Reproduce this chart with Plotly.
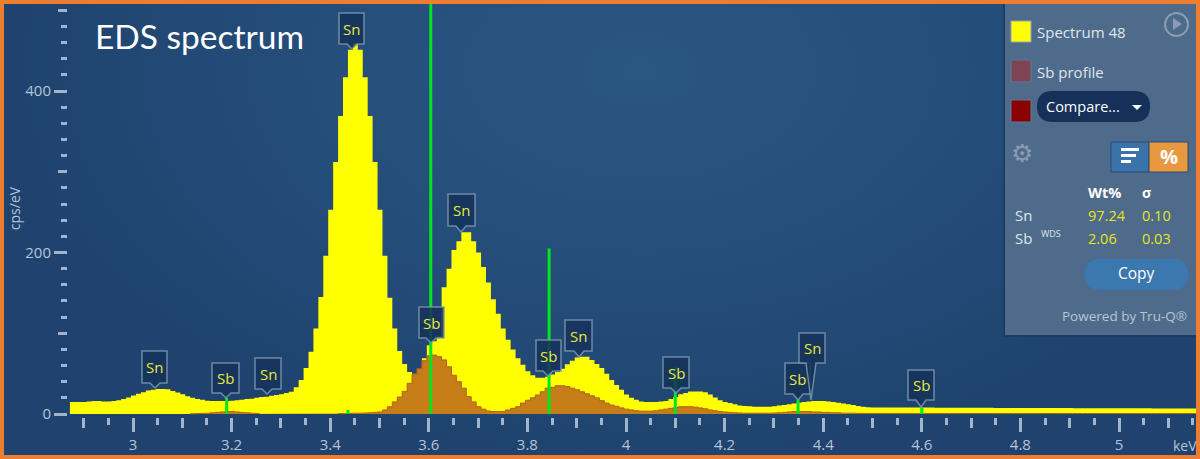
import urllib.parse
import plotly.graph_objects as go

# ---------- data ----------
spectrum_cps = [15,
    15, 15, 15, 15.5, 16, 16, 15.5, 15.5, 16, 17, 18.5, 20.5, 23, 25, 27, 29, 30, 31, 31, 30.5,
    28.5, 26.5, 24.5, 22, 20, 18.5, 17.5, 16.5, 16, 16, 16, 16, 16.5, 17, 17.5, 18.5, 19, 20, 21, 21.5,
    22.5, 23.5, 24.5, 26, 27.5, 33, 42, 57, 77, 106, 145, 196, 253, 312, 369, 417, 451, 459, 451, 417,
    369, 312, 253, 196, 144, 106, 78, 62, 52, 50, 51, 69, 85, 90, 96, 157, 180, 203, 214, 225,
    225, 214, 200, 182, 163, 142, 124, 106, 92, 80, 69, 61, 53, 48, 45, 45, 46, 49, 52, 56,
    61.5, 66, 70, 71, 71, 67, 62, 57, 50, 42, 36, 30, 24, 20, 17.5, 15.5, 15, 15, 15, 15.5,
    16, 18.5, 21, 24.5, 26, 28, 28, 28, 27, 24, 20.5, 17, 15, 13.5, 12, 10.5, 10, 9.5, 9, 9,
    9, 9, 9.5, 10.5, 11, 12, 13, 14, 15, 15.5, 16, 16, 16, 15.5, 15, 14, 13, 12, 11, 10,
    9, 8.5, 8, 8, 8, 8, 8, 8, 8, 8, 8, 8, 8, 8, 8, 7.8, 7.8, 7.8, 7.8, 7.8,
    7.8, 7.6, 7.6, 7.6, 7.6, 7.6, 7.6, 7.5, 7.5, 7.5, 7.5, 7.5, 7.5, 7.4, 7.4, 7.4, 7.4, 7.4, 7.3, 7.3,
    7.3, 7.3, 7.3, 7.2, 7.2, 7.2, 7.2, 7.2, 7.1, 7.1, 7.1, 7.1, 7, 7, 7, 7, 7, 7, 7, 6.9,
    6.9, 6.9, 6.9, 6.8, 6.8, 6.8, 6.8, 6.8, 6.8]

sb_profile_cps = [None] * 25 + [
    0.3, 0.5, 0.8, 1, 1.5, 2, 2.5, 3, 3, 2.5, 2, 1.5, 1, 0.7, 0.4] + [None] * 15 + [
    0.5, 0.5, 0.8, 1, 1, 1.2, 1.5, 2, 2.5, 5, 9, 15, 21, 28, 38, 49, 56, 66, 72, 73,
    71, 67, 58.5, 48, 40, 32, 21.5, 15, 9, 6, 3.7, 3, 3, 3, 5, 7, 9, 13.5, 17, 20,
    23.5, 27.6, 32, 33, 35, 35, 34, 32, 30, 27.5, 25, 22.5, 20, 16.5, 13.5, 11, 9.5, 7.5, 6, 5,
    4, 3.5, 3.5, 3.5, 4, 5, 6, 7, 8, 9, 9, 9, 8.5, 7.5, 6.5, 5, 4, 3, 2.5, 2,
    1.5, 1.2, 1, 1, 1, 1, 1, 1, 1.2, 1.5, 2, 2.5, 3, 3, 3, 3, 2.5, 2.5, 2, 2,
    1.5, 1.5, 1, 1, 1, 0.8, 0.8, 0.7, 0.7, 0.7, 0.7, 0.7, 0.7, 0.7, 0.7, 0.7, 0.7, 0.7, 0.7, 0.7]
sb_profile_cps += [0.6] * (len(spectrum_cps) - len(sb_profile_cps))

first_edge_kev = 2.872
bin_start_kev = 2.876
bin_kev = 0.01

line_kev = [3.19, 3.436, 3.604, 3.844, 4.10, 4.349, 4.60]
line_cps = [20, 5, 520, 205, 58, 18, 8]

marker_text = ["Sn", "Sb", "Sn", "Sn", "Sn", "Sb", "Sb", "Sn", "Sb", "Sb", "Sn", "Sb"]
marker_box_left = [142, 212, 255, 339, 448, 419, 536, 565, 663, 785, 799, 908]
marker_box_right = [167, 239, 281, 364, 475, 444, 561, 592, 689, 810, 825, 934]
marker_box_top = [351, 363, 358, 13, 194, 307, 340, 320, 357, 363, 333, 370]
marker_box_bottom = [383, 393, 389, 44, 226, 338, 371, 351, 388, 394, 363, 400]
marker_tip_x = [155, 226, 267, 352, 461, 431, 548, 579, 676, 798, 811, 921]
marker_tip_y = [388, 398, 394, 49, 232, 343, 376, 357, 393, 400, 400, 407]

result_elements = ["Sn", "Sb"]
result_wt = ["97.24", "2.06"]
result_sigma = ["0.10", "0.03"]

# ---------- page geometry ----------
W, H = 1200, 459
L, R, T, B = 68, 1197, 0, 417
KEV_PX, X3_PX = 493.0, 133.0
CPS_PX, Y0_PX = 0.8075, 414.0


def px(x):
    return (x - L) / (R - L)


def py(y):
    return 1 - (y - T) / (B - T)


energy = [first_edge_kev] + [round(bin_start_kev + bin_kev * i, 3) for i in range(len(spectrum_cps))]
ys = spectrum_cps + [spectrum_cps[-1]]
sb = sb_profile_cps + [sb_profile_cps[-1]]

fig = go.Figure()
fig.add_trace(go.Scatter(x=energy, y=ys, mode="lines", line=dict(shape="hv", color="#ffff00", width=0),
                         fill="tozeroy", fillcolor="#ffff00", name="Spectrum 48", hoverinfo="skip"))
fig.add_trace(go.Scatter(x=energy, y=sb, mode="lines", line=dict(shape="hv", color="#ad621e", width=1),
                         fill="tozeroy", fillcolor="#c67c17", name="Sb profile", hoverinfo="skip"))
gx, gy = [], []
for k, c in zip(line_kev, line_cps):
    gx += [k, k, None]
    gy += [0, c, None]
fig.add_trace(go.Scatter(x=gx, y=gy, mode="lines", line=dict(color="#00e61e", width=3), hoverinfo="skip"))
fig.add_trace(go.Scatter(x=[3], y=[0], mode="lines", xaxis="x2", yaxis="y2", hoverinfo="skip"))

# background gradient
svg = (f'<svg xmlns="http://www.w3.org/2000/svg" width="{W}" height="{H}" preserveAspectRatio="none">'
       '<defs><radialGradient id="g" gradientUnits="userSpaceOnUse" cx="0" cy="0" r="1" '
       'gradientTransform="translate(640 70) scale(640 400)">'
       '<stop offset="0" stop-color="#2a5683"/><stop offset="0.55" stop-color="#254d7a"/>'
       '<stop offset="1" stop-color="#1f426e"/></radialGradient></defs>'
       f'<rect width="{W}" height="{H}" fill="url(#g)"/></svg>')
bg_uri = "data:image/svg+xml;charset=utf-8," + urllib.parse.quote(svg)

shapes = []


def rect(x0, y0, x1, y1, fill, line=None, lw=0):
    shapes.append(dict(type="rect", xref="paper", yref="paper", x0=px(x0), x1=px(x1), y0=py(y0), y1=py(y1),
                       fillcolor=fill, line=dict(color=line or fill, width=lw), layer="above"))


def path(points, fill, line=None, lw=0, closed=True):
    d = "M " + " L ".join(f"{px(x):.5f},{py(y):.5f}" for x, y in points) + (" Z" if closed else "")
    shapes.append(dict(type="path", xref="paper", yref="paper", path=d, fillcolor=fill,
                       line=dict(color=line or "rgba(0,0,0,0)", width=lw), layer="above"))


def pill(x0, y0, x1, y1, fill):
    r = (y1 - y0) / 2
    d = (f"M {px(x0 + r):.5f},{py(y0):.5f} L {px(x1 - r):.5f},{py(y0):.5f} "
         f"Q {px(x1):.5f},{py(y0):.5f} {px(x1):.5f},{py(y0 + r):.5f} "
         f"Q {px(x1):.5f},{py(y1):.5f} {px(x1 - r):.5f},{py(y1):.5f} "
         f"L {px(x0 + r):.5f},{py(y1):.5f} "
         f"Q {px(x0):.5f},{py(y1):.5f} {px(x0):.5f},{py(y0 + r):.5f} "
         f"Q {px(x0):.5f},{py(y0):.5f} {px(x0 + r):.5f},{py(y0):.5f} Z")
    shapes.append(dict(type="path", xref="paper", yref="paper", path=d, fillcolor=fill,
                       line=dict(color="rgba(0,0,0,0)", width=0), layer="above"))


annots = []


def text(x, y, s, size=14, color="#dfe6ee", anchor="left", bold=False, family="Open Sans", angle=0):
    if anchor == "left":
        x -= 2
    annots.append(dict(x=px(x), y=py(y), xref="paper", yref="paper", text=f"<b>{s}</b>" if bold else s,
                       showarrow=False, xanchor=anchor, yanchor="middle", textangle=angle,
                       font=dict(size=size, color=color, family=family)))


# element callouts
for t, x0, x1, y0, y1, tx, ty in zip(marker_text, marker_box_left, marker_box_right, marker_box_top,
                                     marker_box_bottom, marker_tip_x, marker_tip_y):
    bx = min(max(tx, x0 + 5), x1 - 5)
    path([(x0, y0), (x1, y0), (x1, y1), (bx + 5, y1), (tx, ty), (bx - 5, y1), (x0, y1)],
         "rgba(21,50,90,0.86)", "rgba(125,150,175,0.85)", 1.5)
    text((x0 + x1) / 2, (y0 + y1) / 2, t, size=15, color="#e8e83a", anchor="center")

# side panel
rect(1003, 4, 1196, 337, "#1c3c66")
rect(1005, 4, 1196, 335, "#4f6b8b")
rect(1011, 21, 1031, 42, "#ffff00", "#8fa3b8", 1)
rect(1011, 60, 1031, 82, "#7c4455", "#5f7b98", 1)
rect(1011, 100, 1031, 122, "#8b0000", "#5f7b98", 1)
pill(1037, 91, 1150, 122, "#15315a")
path([(1132, 105), (1142, 105), (1137, 110)], "#ffffff")
shapes.append(dict(type="circle", xref="paper", yref="paper", x0=px(1165), x1=px(1188), y0=py(13), y1=py(36),
                   line=dict(color="#8a9db3", width=2), fillcolor="rgba(0,0,0,0)", layer="above"))
path([(1173, 18), (1173, 30), (1182, 24)], "#8a9db3")
rect(1111, 142, 1149, 172, "#3a72aa", "#2a4a70", 1)
rect(1149, 142, 1188, 172, "#e8983e", "#2a4a70", 1)
rect(1121, 148, 1139, 151, "#ffffff")
rect(1121, 154, 1136, 157, "#ffffff")
rect(1121, 160, 1131, 163, "#ffffff")
pill(1085, 259, 1188, 290, "#3b78b0")

text(95, 36, "EDS spectrum", size=33.5, color="#ffffff", family="Lato")
text(1185, 445, "keV", size=14, color="#b5c4d6", anchor="center")
text(1037, 32, "Spectrum 48", size=15)
text(1037, 72, "Sb profile", size=15)
text(1046, 107, "Compare...", size=14.5, color="#ffffff")
text(1022, 154, "⚙", size=25, color="#8a9cb0", anchor="center", family="DejaVu Sans")
text(1169, 156, "%", size=20, color="#ffffff", anchor="center", bold=True)
text(1088, 192, "Wt%", size=14.5, color="#ffffff", bold=True)
text(1146, 192, "σ", size=14, color="#ffffff", anchor="center", bold=True)
for i, row_y in enumerate([215, 238]):
    text(1015, row_y, result_elements[i], size=15)
    text(1088, row_y, result_wt[i], size=14.5, color="#e6e61a")
    text(1142, row_y, result_sigma[i], size=14.5, color="#e6e61a")
text(1041, 233, "WDS", size=9)
text(1136, 273, "Copy", size=15.5, color="#ffffff", anchor="center")
text(1062, 316, "Powered by Tru-Q®", size=13.5, color="#b7c5d4")

# orange frame
for a in [(0, 0, W, 4), (0, H - 4, W, H), (0, 0, 4, H), (W - 4, 0, W, H)]:
    rect(*a, "#ed7d31")

xr = [3 + (L - X3_PX) / KEV_PX, 3 + (R - X3_PX) / KEV_PX]
yr = [(Y0_PX - B) / CPS_PX, (Y0_PX - T) / CPS_PX]
TICK = "#a3b4c6"
LABEL = dict(size=15, color="#b5c4d6", family="Open Sans")

fig.update_layout(
    width=W, height=H, autosize=False, showlegend=False,
    margin=dict(l=L, r=W - R, t=T, b=H - B, pad=0),
    paper_bgcolor="#224670", plot_bgcolor="rgba(0,0,0,0)",
    images=[dict(source=bg_uri, xref="paper", yref="paper", x=px(0), y=py(0), sizex=W / (R - L), sizey=H / (B - T),
                 xanchor="left", yanchor="top", sizing="stretch", layer="below")],
    shapes=shapes, annotations=annots,
    xaxis=dict(range=xr, tick0=3, dtick=0.2, ticks="outside", ticklen=14, tickwidth=2.5, tickcolor=TICK,
               showgrid=False, zeroline=False, showline=False, tickfont=LABEL, ticklabelstandoff=0,
               minor=dict(tick0=3, dtick=0.05, ticks="outside", ticklen=7, tickwidth=2.5, tickcolor=TICK, showgrid=False)),
    yaxis=dict(range=yr, tick0=0, dtick=200, ticks="outside", ticklen=13, tickwidth=2.5, tickcolor=TICK,
               showgrid=False, zeroline=False, showline=False, tickfont=LABEL,
               title=dict(text="cps/eV", standoff=1, font=dict(size=14, color="#b5c4d6", family="Open Sans")),
               minor=dict(tick0=0, dtick=20, ticks="outside", ticklen=6, tickwidth=2.5, tickcolor=TICK, showgrid=False)),
    xaxis2=dict(range=xr, overlaying="x", anchor="y2", side="bottom", tick0=3, dtick=0.1, ticks="outside", ticklen=10,
                tickwidth=2.5, tickcolor=TICK, showticklabels=False, showgrid=False, zeroline=False, showline=False),
    yaxis2=dict(range=yr, overlaying="y", anchor="x2", side="left", tick0=0, dtick=100, ticks="outside", ticklen=9,
                tickwidth=2.5, tickcolor=TICK, showticklabels=False, showgrid=False, zeroline=False, showline=False),
)
fig.write_html("out.html", config=dict(displayModeBar=False),
               post_script="document.documentElement.style.overflow='hidden';document.body.style.margin='0';")
